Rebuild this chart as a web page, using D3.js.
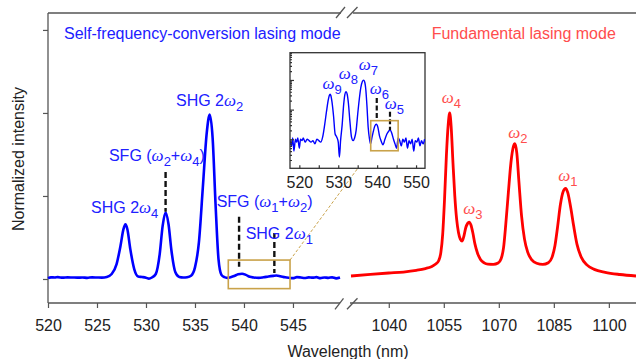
<!DOCTYPE html>

<head>
  <title>Lasing modes</title>
  <meta charset="utf-8">
  <script type="text/javascript" src="https://cdn.jsdelivr.net/npm/d3@7"></script>
  <style>
    body { margin: 0; background: #fff; }
    text { font-family: "Liberation Sans", Arial, sans-serif; }
  </style>
</head>

<body>
  <div id="chart"></div>
</body>

<script>
  // blue spectrum (self-frequency-conversion), [wavelength nm, normalized intensity]
  var blueData = [
    [517.6, 0.009], [518.0, 0.006], [518.3, 0.011], [518.6, 0.004], [519.0, 0.010],
    [519.3, 0.008], [519.6, 0.011], [520.0, 0.005], [520.3, 0.010], [520.7, 0.009],
    [521.0, 0.011], [521.5, 0.008], [522.0, 0.010], [522.5, 0.009], [523.0, 0.008],
    [523.5, 0.009], [524.0, 0.007], [524.5, 0.010], [525.0, 0.009], [525.5, 0.008],
    [526.0, 0.012], [526.5, 0.03], [527.0, 0.09], [527.4, 0.20], [527.7, 0.30],
    [527.9, 0.33], [528.1, 0.30], [528.4, 0.18], [528.8, 0.06], [529.2, 0.015],
    [529.6, 0.012], [530.0, 0.008], [530.3, 0.0025], [530.6, 0.009], [531.0, 0.03],
    [531.4, 0.15], [531.7, 0.32], [532.0, 0.40], [532.3, 0.33], [532.6, 0.17],
    [533.0, 0.04], [533.4, 0.012], [533.8, 0.009], [534.2, 0.011], [534.6, 0.02],
    [535.0, 0.07], [535.4, 0.22], [535.8, 0.55], [536.2, 0.88], [536.5, 0.99],
    [536.8, 0.85], [537.1, 0.45], [537.4, 0.12], [537.7, 0.025], [538.0, 0.011],
    [538.3, 0.007], [538.7, 0.012], [539.0, 0.018], [539.4, 0.028], [539.8, 0.032],
    [540.2, 0.025], [540.6, 0.013], [541.0, 0.009], [541.5, 0.0065], [542.0, 0.010],
    [542.5, 0.015], [543.0, 0.019], [543.3, 0.021], [543.7, 0.017], [544.2, 0.010],
    [544.6, 0.007], [545.0, 0.005], [545.4, 0.011], [545.8, 0.009], [546.2, 0.006],
    [546.6, 0.010], [547.0, 0.008], [547.4, 0.011], [547.8, 0.005], [548.2, 0.009],
    [548.6, 0.007], [549.0, 0.010], [549.4, 0.004], [549.8, 0.009], [550.2, 0.008],
    [550.6, 0.011], [551.0, 0.006], [551.4, 0.009], [551.8, 0.007], [552.2, 0.010]
  ];

  // red spectrum (fundamental lasing), [wavelength nm, normalized intensity]
  var redData = [
    [1029.7, 0.018], [1035, 0.028], [1040, 0.036], [1044, 0.042], [1047.5, 0.052],
    [1050, 0.063], [1051.6, 0.074], [1052.8, 0.09], [1053.6, 0.11], [1054.2, 0.16],
    [1054.7, 0.27], [1055.2, 0.48], [1055.7, 0.74], [1056.2, 0.93], [1056.6, 1.0],
    [1057.0, 0.92], [1057.5, 0.70], [1058.0, 0.50], [1058.5, 0.36], [1059.0, 0.28],
    [1059.5, 0.24], [1060.0, 0.228], [1060.5, 0.26], [1061.0, 0.31], [1061.5, 0.335],
    [1061.9, 0.343], [1062.4, 0.325], [1062.9, 0.28], [1063.5, 0.21], [1064.2, 0.155],
    [1065.0, 0.118], [1066.0, 0.097], [1067.0, 0.089], [1068.5, 0.088], [1069.8, 0.096],
    [1070.6, 0.12], [1071.3, 0.19], [1071.9, 0.33], [1072.6, 0.52], [1073.3, 0.70],
    [1074.0, 0.80], [1074.4, 0.815], [1074.9, 0.76], [1075.5, 0.58], [1076.2, 0.38],
    [1077.0, 0.24], [1077.9, 0.16], [1079.0, 0.115], [1080.3, 0.095], [1082.0, 0.088],
    [1083.5, 0.098], [1084.5, 0.13], [1085.3, 0.2], [1086.0, 0.31], [1086.8, 0.45],
    [1087.6, 0.53], [1088.2, 0.546], [1088.8, 0.52], [1089.6, 0.43], [1090.4, 0.32],
    [1091.3, 0.21], [1092.5, 0.13], [1094.0, 0.085], [1096.0, 0.058], [1099.0, 0.04],
    [1103.0, 0.027], [1107.4, 0.018]
  ];

  // tick values
  var leftTicks = [520, 525, 530, 535, 540, 545];
  var rightTicks = [1040, 1055, 1070, 1085, 1100];
  var yTicks = [0, 0.5, 1, 1.5];
  var insetTicks = [520, 525, 530, 535, 540, 545, 550];

  // dashed markers: [wavelength, from value, to value]
  var mainMarks = [[532.0, 0.645, 0.405], [539.5, 0.375, 0.074], [543.1, 0.277, 0.036]];
  var insetMarks = [[539.9, 0.247, 0.052], [543.3, 0.085, 0.0206]];

  var blue = "#0000ff", blueText = "#2020ff", red = "#ff0000", redText = "#ff4d4d", gold = "#c9a24a";

  var width = 636, height = 359;
  var svg = d3.select("#chart").append("svg")
    .attr("width", width).attr("height", height);

  // scales: broken x axis, two segments
  var xL = d3.scaleLinear().domain([520, 549.8]).range([48, 340]);
  var xR = d3.scaleLinear().domain([1029.7, 1107.4]).range([351, 636]);
  var y = d3.scaleLinear().domain([-0.1446, 1.602]).range([303, 13]);

  // inset scales (log y)
  var xi = d3.scaleLinear().domain([517.6, 552.3]).range([290, 425]);
  var yi = d3.scaleLog().domain([0.00105, 8.3]).range([168.3, 52.7]);

  var axisColor = "#555";

  // spines with break marks
  var spine = svg.append("g").attr("stroke", axisColor).attr("stroke-width", 1.3).attr("fill", "none");
  spine.append("line").attr("x1", 48).attr("x2", 48).attr("y1", y.range()[1]).attr("y2", y.range()[0]);
  [[48, 340, 303], [350, 636, 303], [48, 341, 13], [353, 636, 13]].forEach(function(s) {
    spine.append("line").attr("x1", s[0]).attr("x2", s[1]).attr("y1", s[2]).attr("y2", s[2]);
  });
  [[335, 343.5, 303.8], [347, 357.5, 303.8], [336, 345, 12.5], [347, 357.5, 12.5]].forEach(function(b) {
    spine.append("line").attr("x1", b[0]).attr("x2", b[1])
      .attr("y1", b[2] + 5.5).attr("y2", b[2] - 5.5);
  });

  // axes
  function styleAxis(g) {
    g.select(".domain").remove();
    g.selectAll(".tick line").attr("stroke", axisColor).attr("stroke-width", 1.2);
    g.selectAll(".tick text").attr("fill", "#222").style("font-size", "16px")
      .style("font-family", "'Liberation Sans', Arial, sans-serif");
  }
  svg.append("g").attr("transform", "translate(0,303)")
    .call(d3.axisBottom(xL).tickValues(leftTicks).tickSize(5).tickPadding(11.5).tickFormat(d3.format("d")))
    .call(styleAxis);
  svg.append("g").attr("transform", "translate(0,303)")
    .call(d3.axisBottom(xR).tickValues(rightTicks).tickSize(5).tickPadding(11.5).tickFormat(d3.format("d")))
    .call(styleAxis);
  svg.append("g").attr("transform", "translate(48,0)")
    .call(d3.axisLeft(y).tickValues(yTicks).tickSize(5).tickFormat(""))
    .call(styleAxis);

  // axis titles
  svg.append("text").attr("x", 348).attr("y", 357).attr("text-anchor", "middle")
    .attr("fill", "#222").style("font-size", "16px").text("Wavelength (nm)");
  svg.append("text").attr("transform", "translate(24,159) rotate(-90)").attr("text-anchor", "middle")
    .attr("fill", "#222").style("font-size", "16px").text("Normalized intensity");

  // spectra
  var lineL = d3.line().x(function(d) { return xL(d[0]); }).y(function(d) { return y(d[1]); })
    .curve(d3.curveMonotoneX);
  var lineR = d3.line().x(function(d) { return xR(d[0]); }).y(function(d) { return y(d[1]); })
    .curve(d3.curveMonotoneX);

  svg.append("path")
    .datum(blueData.filter(function(d) { return d[0] >= 520 && d[0] <= 549.8; }))
    .attr("fill", "none").attr("stroke", blue).attr("stroke-width", 2.6)
    .attr("stroke-linejoin", "round").attr("d", lineL);

  svg.append("path")
    .datum(redData)
    .attr("fill", "none").attr("stroke", red).attr("stroke-width", 2.8)
    .attr("stroke-linejoin", "round").attr("d", lineR);

  // dashed markers on main plot
  mainMarks.forEach(function(m) {
    svg.append("line").attr("x1", xL(m[0])).attr("x2", xL(m[0]))
      .attr("y1", y(m[1])).attr("y2", y(m[2]))
      .attr("stroke", "#111").attr("stroke-width", 2.4).attr("stroke-dasharray", "6,3");
  });

  // zoom box on main plot and connector to inset
  svg.append("rect")
    .attr("x", xL(538.4)).attr("y", y(0.114))
    .attr("width", xL(544.7) - xL(538.4)).attr("height", y(-0.058) - y(0.114))
    .attr("fill", "none").attr("stroke", gold).attr("stroke-width", 1.6);
  svg.append("line")
    .attr("x1", xL(544.7)).attr("y1", y(0.114))
    .attr("x2", xi(538.35)).attr("y2", yi(0.0041))
    .attr("stroke", gold).attr("stroke-width", 1).attr("stroke-dasharray", "3,2");

  // inset
  var inset = svg.append("g");
  inset.append("rect").attr("x", 290).attr("y", 52.7).attr("width", 135).attr("height", 115.6)
    .attr("fill", "#fff").attr("stroke", "#333").attr("stroke-width", 1.3);

  svg.append("clipPath").attr("id", "insetClip").append("rect")
    .attr("x", 290).attr("y", 52.7).attr("width", 135).attr("height", 115.6);

  inset.append("path")
    .datum(blueData)
    .attr("clip-path", "url(#insetClip)")
    .attr("fill", "none").attr("stroke", blue).attr("stroke-width", 1.4)
    .attr("d", d3.line().x(function(d) { return xi(d[0]); }).y(function(d) { return yi(d[1]); })
      .curve(d3.curveMonotoneX));

  // inset log ticks (inward)
  var majors = [0.01, 0.1, 1];
  var minors = [];
  [0.001, 0.01, 0.1, 1].forEach(function(dec) {
    for (var k = 2; k <= 9; k++) {
      var v = dec * k;
      if (v > yi.domain()[0] && v < yi.domain()[1]) minors.push(v);
    }
  });
  inset.append("g").attr("transform", "translate(290,0)")
    .call(d3.axisLeft(yi).tickValues(majors).tickSize(-4).tickFormat(""))
    .call(styleAxis);
  inset.append("g").attr("transform", "translate(290,0)")
    .call(d3.axisLeft(yi).tickValues(minors).tickSize(-2).tickFormat(""))
    .call(styleAxis);
  inset.append("g").attr("transform", "translate(0,168.3)")
    .call(d3.axisBottom(xi).tickValues(insetTicks).tickSize(-3).tickPadding(8.6)
      .tickFormat(function(d) { return d % 10 === 0 ? d : ""; }))
    .call(styleAxis);
  inset.selectAll(".tick line").attr("stroke", "#333");

  insetMarks.forEach(function(m) {
    inset.append("line").attr("x1", xi(m[0])).attr("x2", xi(m[0]))
      .attr("y1", yi(m[1])).attr("y2", yi(m[2]))
      .attr("stroke", "#111").attr("stroke-width", 2.2).attr("stroke-dasharray", "5,2.5");
  });
  inset.append("rect")
    .attr("x", xi(538.35)).attr("y", yi(0.0424))
    .attr("width", xi(545.4) - xi(538.35)).attr("height", yi(0.0041) - yi(0.0424))
    .attr("fill", "none").attr("stroke", gold).attr("stroke-width", 1.6);

  // labels: plain strings, "w" = omega, "_x" = subscript
  function label(x, yy, parts, color) {
    var t = svg.append("text").attr("x", x).attr("y", yy).attr("fill", color).style("font-size", "16px");
    var down = false;
    parts.forEach(function(p) {
      var ts = t.append("tspan");
      if (p === "w") {
        ts.text("\u03c9").style("font-family", "'Liberation Serif', 'DejaVu Serif', serif")
          .style("font-style", "italic").style("font-size", "17px");
        if (down) { ts.attr("dy", -5); down = false; }
      } else if (p.charAt(0) === "_") {
        ts.text(p.slice(1)).style("font-size", "13px").attr("dy", 5);
        down = true;
      } else {
        ts.text(p);
        if (down) { ts.attr("dy", -5); down = false; }
      }
    });
  }

  label(xL(521.63), y(1.446), ["Self-frequency-conversion lasing mode"], blueText);
  label(xR(1051.7), y(1.446), ["Fundamental lasing mode"], redText);

  label(xL(533.06), y(1.042), ["SHG 2", "w", "_2"], blueText);
  label(xL(526.22), y(0.711), ["SFG (", "w", "_2", "+", "w", "_4", ")"], blueText);
  label(xL(524.39), y(0.395), ["SHG 2", "w", "_4"], blueText);
  label(xL(537.21), y(0.431), ["SFG (", "w", "_1", "+", "w", "_2", ")"], blueText);
  label(xL(540.17), y(0.241), ["SHG 2", "w", "_1"], blueText);

  label(xR(1054.43), y(1.06), ["w", "_4"], redText);
  label(xR(1072.59), y(0.849), ["w", "_2"], redText);
  label(xR(1086.2), y(0.59), ["w", "_1"], redText);
  label(xR(1060.3), y(0.392), ["w", "_3"], redText);

  label(xi(525.96), yi(0.478), ["w", "_9"], blueText);
  label(xi(530.12), yi(1.04), ["w", "_8"], blueText);
  label(xi(535.27), yi(2.09), ["w", "_7"], blueText);
  label(xi(538.1), yi(0.324), ["w", "_6"], blueText);
  label(xi(541.96), yi(0.107), ["w", "_5"], blueText);
</script>
